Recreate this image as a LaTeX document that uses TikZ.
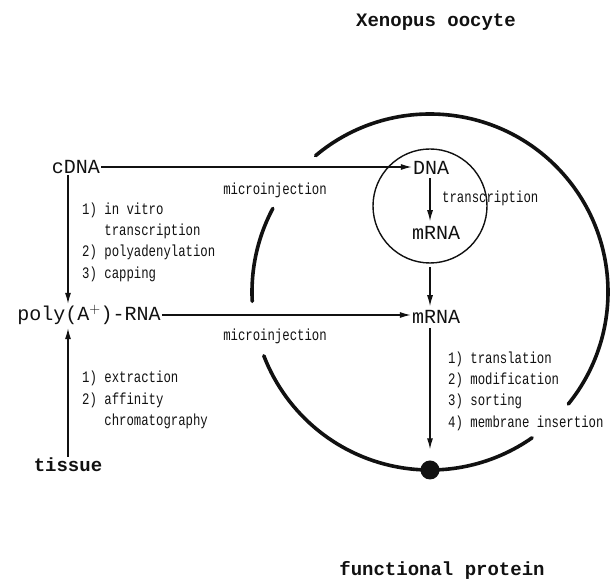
\documentclass[tikz,border=0pt]{standalone}
\usepackage{fontspec}
\usepackage{tikz}
\usetikzlibrary{
  arrows.meta,
  positioning,
  calc
}
\setmonofont{Liberation Mono}
\newfontfamily\narrowmono[FakeStretch=0.77]{Liberation Mono}
\definecolor{ooInk}{HTML}{111111}
\tikzset{
  oomol/.style={inner sep=1pt, font=\ttfamily\fontsize{20}{22}\selectfont, text=ooInk},
  ootitle/.style={oomol, font=\ttfamily\bfseries\fontsize{19}{22}\selectfont},
  oolist/.style={inner sep=0pt, anchor=west, align=left,
    font=\narrowmono\fontsize{16}{21.3}\selectfont, text=ooInk},
  ooarrow/.style={-{Latex[length=11pt, width=6pt]}, line width=1.2pt, ooInk},
  membrane/.style={line width=3.6pt, ooInk, line cap=round},
  nucleus/.style={line width=1.4pt, ooInk}
}

\begin{document}
\begin{tikzpicture}[x=1pt, y=1pt]
  \useasboundingbox (0,0) rectangle (610,580);
  % labels
  \node[ootitle] (oocyte) at (436,558) {Xenopus oocyte};
  \node[ootitle] (protein) at (442,10) {functional protein};
  \node[oomol] (cdna) at (76,413) {cDNA};
  \node[oomol] (poly) at (89,265) {poly(A$^{+}$)-RNA};
  \node[ootitle] (tissue) at (68,115) {tissue};
  \node[oomol] (dna) at (431,412) {DNA};
  \node[oomol] (mrnain) at (436,347) {mRNA};
  \node[oomol] (mrna) at (436,263) {mRNA};
  \node[circle, fill=ooInk, minimum size=19pt, inner sep=0pt] (dot) at (430,110) {};
  % cell and nucleus
  \coordinate (cell) at (430,288);
  \draw[nucleus] (430,374) circle[radius=57];
  \draw[membrane] (cell) ++(130:178) arc[start angle=130, end angle=-39, radius=178];
  \draw[membrane] (cell) ++(152:178) arc[start angle=152, end angle=183, radius=178];
  \draw[membrane] (cell) ++(201:178) arc[start angle=201, end angle=305, radius=178];
  % step lists
  \node[oolist] (synth) at (82,338) {1) in vitro\\\phantom{1) }transcription\\2) polyadenylation\\3) capping};
  \node[oolist] (purif) at (82,180) {1) extraction\\2) affinity\\\phantom{2) }chromatography};
  \node[oolist] (process) at (448,189) {1) translation\\2) modification\\3) sorting\\4) membrane insertion};
  \node[oolist] (transc) at (442,382) {transcription};
  \node[oolist, anchor=center] (inj1) at (275,390) {microinjection};
  \node[oolist, anchor=center] (inj2) at (275,244) {microinjection};
  % arrows
  \draw[ooarrow] (cdna.east) -- (cdna.east -| dna.west);
  \draw[ooarrow] (poly.east) -- (poly.east -| mrna.west);
  \draw[ooarrow] (cdna.south -| tissue) -- (poly.north -| tissue);
  \draw[ooarrow] (tissue.north) -- ([yshift=-2pt]poly.south -| tissue);
  \draw[ooarrow, shorten <=2pt, shorten >=4pt] (dna.south -| dot) -- (mrnain.north -| dot);
  \draw[ooarrow, shorten <=26pt, shorten >=3pt] (mrnain.south -| dot) -- (mrna.north -| dot);
  \draw[ooarrow, shorten <=3pt, shorten >=11pt] (mrna.south -| dot) -- (dot.north);
\end{tikzpicture}
\end{document}
